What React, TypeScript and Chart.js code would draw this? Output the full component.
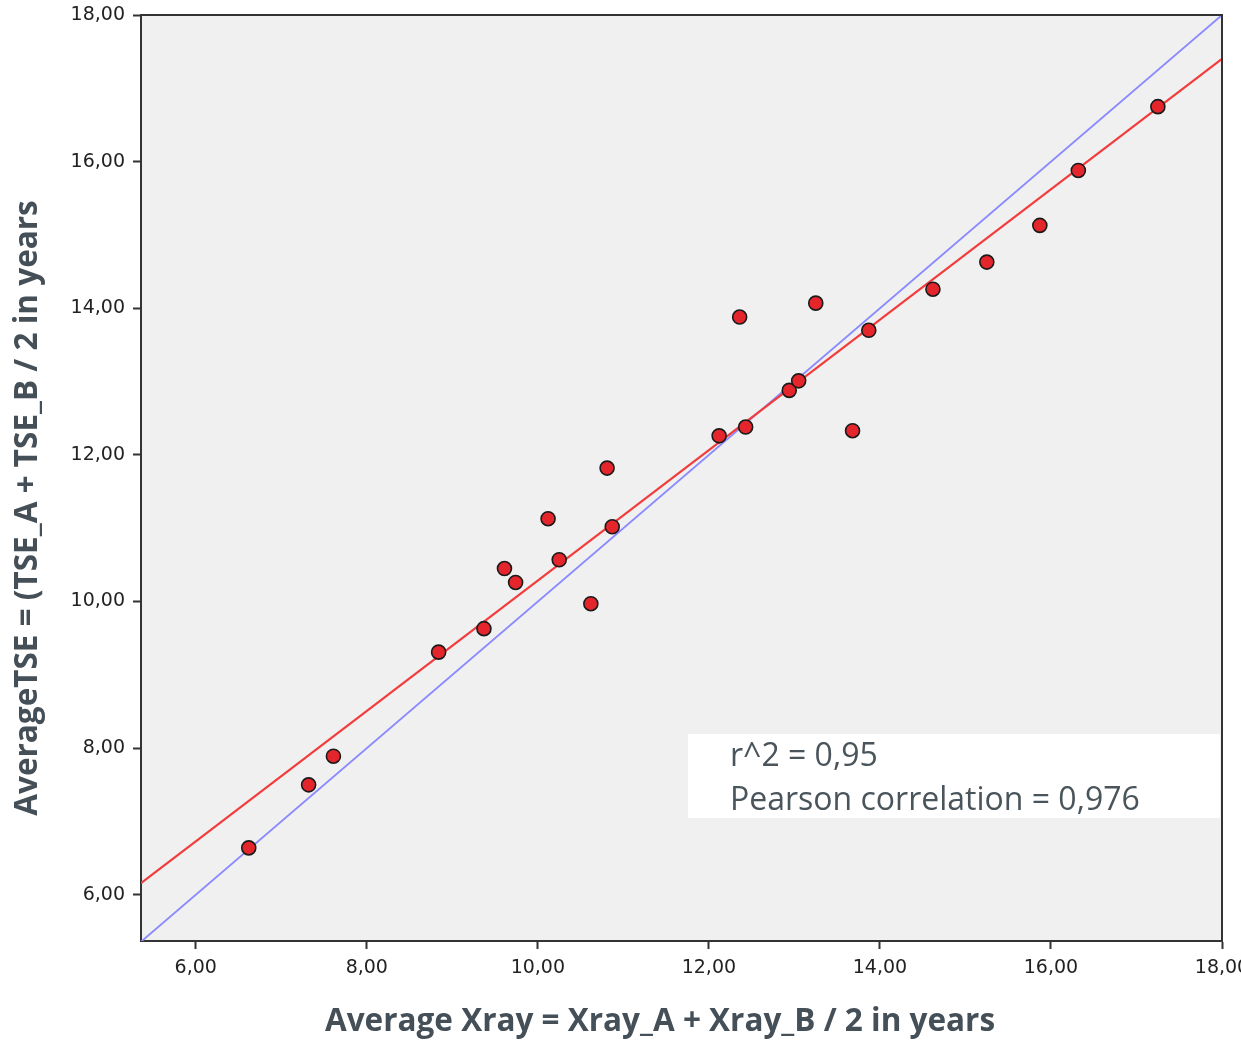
import React, { useEffect, useRef } from "react";
import { Chart, registerables } from "chart.js";

Chart.register(...registerables);

// Data
const xValues = [6.62, 7.32, 7.61, 8.84, 9.37, 9.61, 9.74, 10.12, 10.25, 10.62, 10.81, 10.87, 12.12, 12.36, 12.43, 12.94, 13.05, 13.25, 13.68, 13.87, 14.62, 15.25, 15.87, 16.32, 17.25];
const yValues = [6.64, 7.50, 7.89, 9.31, 9.63, 10.45, 10.26, 11.13, 10.57, 9.97, 11.82, 11.02, 12.26, 13.88, 12.38, 12.88, 13.01, 14.07, 12.33, 13.70, 14.26, 14.63, 15.13, 15.88, 16.75];
const fitLineX = [5.36, 18];
const fitLineY = [6.16, 17.40];
const identityX = [5.36, 18];
const identityY = [5.36, 18];
const xTicks = [6, 8, 10, 12, 14, 16, 18];
const yTicks = [6, 8, 10, 12, 14, 16, 18];
const xTitle = "Average Xray = Xray_A + Xray_B / 2 in years";
const yTitle = "AverageTSE = (TSE_A + TSE_B / 2 in years";
const statLines = ["r^2 = 0,95", "Pearson correlation = 0,976"];

const fmt = (v: number) => v.toFixed(2).replace(".", ",");

export default function App() {
  const ref = useRef<HTMLCanvasElement | null>(null);

  useEffect(() => {
    const canvas = ref.current;
    if (!canvas) return;

    const framePlugin = {
      id: "frame",
      beforeDraw(chart: any) {
        const { ctx, chartArea: a } = chart;
        ctx.save();
        ctx.fillStyle = "#f0f0f0";
        ctx.fillRect(a.left, a.top, a.right - a.left, a.bottom - a.top);
        ctx.restore();
      },
      beforeDatasetsDraw(chart: any) {
        const { ctx, chartArea: a } = chart;
        ctx.save();
        // stats box
        const bx = 688, by = 734, bw = a.right - 2 - bx, bh = 84;
        ctx.fillStyle = "#ffffff";
        ctx.fillRect(bx, by, bw, bh);
        ctx.fillStyle = "#4a545b";
        ctx.font = "32px 'Open Sans'";
        ctx.textBaseline = "alphabetic";
        ctx.textAlign = "left";
        ctx.fillText(statLines[0], 730, 766);
        ctx.fillText(statLines[1], 730, 810);
        ctx.restore();
      },
      afterDraw(chart: any) {
        const { ctx, chartArea: a } = chart;
        ctx.save();
        ctx.strokeStyle = "#333333";
        ctx.lineWidth = 2;
        ctx.beginPath();
        ctx.moveTo(a.left, a.top);
        ctx.lineTo(a.right, a.top);
        ctx.lineTo(a.right, a.bottom);
        ctx.stroke();
        // axis titles
        ctx.fillStyle = "#454f57";
        ctx.font = "bold 31.5px 'Open Sans'";
        ctx.textAlign = "center";
        ctx.textBaseline = "middle";
        ctx.fillText(xTitle, 660, 1022);
        ctx.translate(28, 508);
        ctx.rotate(-Math.PI / 2);
        ctx.fillText(yTitle, 0, 0);
        ctx.restore();
      },
    };

    const chart = new Chart(canvas, {
      type: "scatter",
      data: {
        datasets: [
          {
            type: "line",
            label: "identity",
            data: identityX.map((x, i) => ({ x, y: identityY[i] })),
            borderColor: "#8a8aff",
            borderWidth: 1.8,
            pointRadius: 0,
            fill: false,
            order: 3,
          },
          {
            type: "line",
            label: "fit",
            data: fitLineX.map((x, i) => ({ x, y: fitLineY[i] })),
            borderColor: "#f23c3c",
            borderWidth: 2.2,
            pointRadius: 0,
            fill: false,
            order: 2,
          },
          {
            label: "points",
            data: xValues.map((x, i) => ({ x, y: yValues[i] })),
            backgroundColor: "#e4262c",
            borderColor: "#1a1a1a",
            borderWidth: 1.6,
            pointRadius: 7,
            order: 1,
          },
        ],
      },
      options: {
        responsive: false,
        animation: false,
        devicePixelRatio: 1,
        layout: { padding: { top: 15, right: 19, left: 0, bottom: 0 } },
        plugins: { legend: { display: false }, tooltip: { enabled: false } },
        scales: {
          x: {
            type: "linear",
            min: 5.36,
            max: 18,
            afterBuildTicks: (s: any) => {
              s.ticks = xTicks.map((v) => ({ value: v }));
            },
            afterFit: (s: any) => {
              s.height = 102;
              s.paddingLeft = 0;
              s.paddingRight = 0;
            },
            ticks: {
              callback: (v: any) => fmt(Number(v)),
              font: { family: "'DejaVu Sans'", size: 19 },
              color: "#222222",
              padding: 8,
              maxRotation: 0,
              autoSkip: false,
            },
            grid: { drawOnChartArea: false, drawTicks: true, tickLength: 8, tickColor: "#333333", tickWidth: 2 },
            border: { display: true, color: "#333333", width: 2 },
          },
          y: {
            type: "linear",
            min: 5.37,
            max: 18,
            afterBuildTicks: (s: any) => {
              s.ticks = yTicks.map((v) => ({ value: v }));
            },
            afterFit: (s: any) => {
              s.width = 141;
              s.paddingTop = 0;
              s.paddingBottom = 0;
            },
            ticks: {
              callback: (v: any) => fmt(Number(v)),
              font: { family: "'DejaVu Sans'", size: 19 },
              color: "#222222",
              padding: 8,
              autoSkip: false,
            },
            grid: { drawOnChartArea: false, drawTicks: true, tickLength: 8, tickColor: "#333333", tickWidth: 2 },
            border: { display: true, color: "#333333", width: 2 },
          },
        },
      },
      plugins: [framePlugin],
    } as any);

    return () => chart.destroy();
  }, []);

  return (
    <div style={{ position: "absolute", left: 0, top: 0, width: 1241, height: 1043, background: "#fff" }}>
      <canvas ref={ref} width={1241} height={1043} style={{ display: "block" }} />
    </div>
  );
}
